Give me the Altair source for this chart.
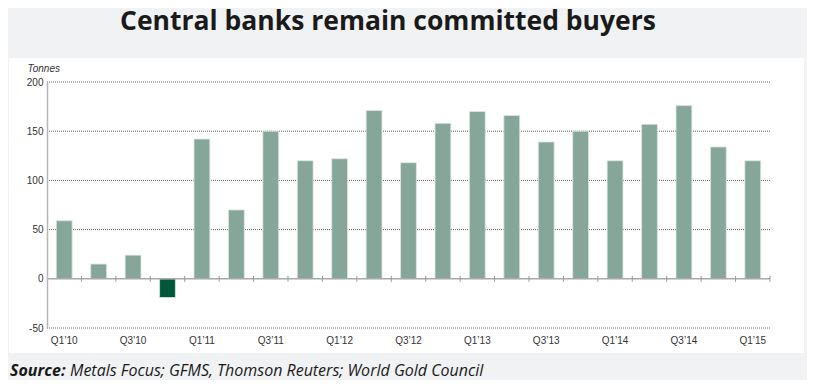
import altair as alt
import pandas as pd

quarters = ["Q1’10", "Q2’10", "Q3’10", "Q4’10",
            "Q1’11", "Q2’11", "Q3’11", "Q4’11",
            "Q1’12", "Q2’12", "Q3’12", "Q4’12",
            "Q1’13", "Q2’13", "Q3’13", "Q4’13",
            "Q1’14", "Q2’14", "Q3’14", "Q4’14",
            "Q1’15"]
tonnes = [59, 15, 24, -19,
          142, 70, 150, 120,
          122, 171, 118, 158,
          170, 166, 139, 150,
          120, 157, 176, 134,
          120]
label_quarters = quarters[::2]
y_ticks = [-50, 0, 50, 100, 150, 200]
grid_values = [200, 150, 100, 50, -50]

TITLE = "Central banks remain committed buyers"
SOURCE_BOLD = "Source:"
SOURCE_REST = "Metals Focus; GFMS, Thomson Reuters; World Gold Council"

W, H = 723, 246
LIGHT = "#86a699"
DARK = "#00573a"
AXFONT = "Liberation Sans"

bars_df = pd.DataFrame({"quarter": quarters, "tonnes": tonnes})
grid_df = pd.DataFrame({"tonnes": grid_values})
one = pd.DataFrame({"k": [0]})

x_scale = alt.Scale(domain=quarters, paddingInner=0, paddingOuter=0)
y_scale = alt.Scale(domain=[-50, 200], nice=False, zero=False)

x_axis = alt.Axis(values=label_quarters, domain=False, ticks=False, grid=False, labelAngle=0,
                  labelFont=AXFONT, labelFontSize=10, labelColor="#333333",
                  labelPadding=7, title=None, zindex=1)
y_axis = alt.Axis(values=y_ticks, grid=False, ticks=False, domain=True,
                  domainColor="#b5b5b5", domainWidth=1.5,
                  labelExpr="'' + datum.value",
                  labelFont=AXFONT, labelFontSize=10, labelColor="#333333",
                  labelPadding=4, title="Tonnes", titleAngle=0, titleAlign="left",
                  titleX=-20, titleY=-11, titleFont=AXFONT, titleFontSize=10,
                  titleFontStyle="italic", titleFontWeight="normal",
                  titleBaseline="alphabetic", titleColor="#333333", zindex=1)

panel = alt.Chart(one).mark_rect(color="white").encode(
    x=alt.value(-38), x2=alt.value(757), y=alt.value(-24), y2=alt.value(271)
)

grid = alt.Chart(grid_df).mark_rule(color="#666666", strokeDash=[1, 1], strokeWidth=1).encode(
    y=alt.Y("tonnes:Q", scale=y_scale, axis=y_axis)
)

bars = alt.Chart(bars_df).mark_bar(
    width=alt.RelativeBandSize(0.46), stroke="#dde6e1", strokeWidth=0.8
).encode(
    x=alt.X("quarter:N", scale=x_scale, sort=quarters, axis=x_axis),
    y=alt.Y("tonnes:Q", scale=y_scale, axis=y_axis),
    color=alt.condition(alt.datum.tonnes < 0, alt.value(DARK), alt.value(LIGHT)),
)

zero = alt.Chart(one).mark_rule(color="#aaaaaa", strokeWidth=1.5).encode(
    y=alt.Y(datum=0, type="quantitative", scale=y_scale, axis=y_axis)
)

ticks = alt.Chart(bars_df).mark_rule(color="#999999", strokeWidth=1).encode(
    x=alt.X("quarter:N", scale=x_scale, sort=quarters, bandPosition=1, axis=x_axis),
    y=alt.Y(datum=-3, type="quantitative", scale=y_scale, axis=y_axis),
    y2=alt.Y2(datum=3),
)

title = alt.Chart(one).mark_text(
    font="Open Sans", fontSize=26.5, fontWeight="bold", color="#1a1a1a",
    align="center", baseline="alphabetic"
).encode(x=alt.value(341), y=alt.value(-52), text=alt.value(TITLE))

src_b = alt.Chart(one).mark_text(
    font="Open Sans", fontSize=16, fontWeight="bold", fontStyle="italic", color="#1a1a1a",
    align="left", baseline="alphabetic"
).encode(x=alt.value(-37), y=alt.value(294), text=alt.value(SOURCE_BOLD))

src_r = alt.Chart(one).mark_text(
    font="Open Sans", fontSize=16, fontStyle="italic", color="#1a1a1a",
    align="left", baseline="alphabetic"
).encode(x=alt.value(23), y=alt.value(294), text=alt.value(SOURCE_REST))

chart = alt.layer(panel, grid, bars, zero, ticks, title, src_b, src_r).properties(
    width=W, height=H,
    autosize=alt.AutoSizeParams(type="none"),
    padding={"left": 39, "top": 74, "right": 37, "bottom": 52},
    background="#f1f2f4",
).configure_view(strokeWidth=0)

chart.save("out.html", embed_options={"renderer": "svg", "actions": False})
